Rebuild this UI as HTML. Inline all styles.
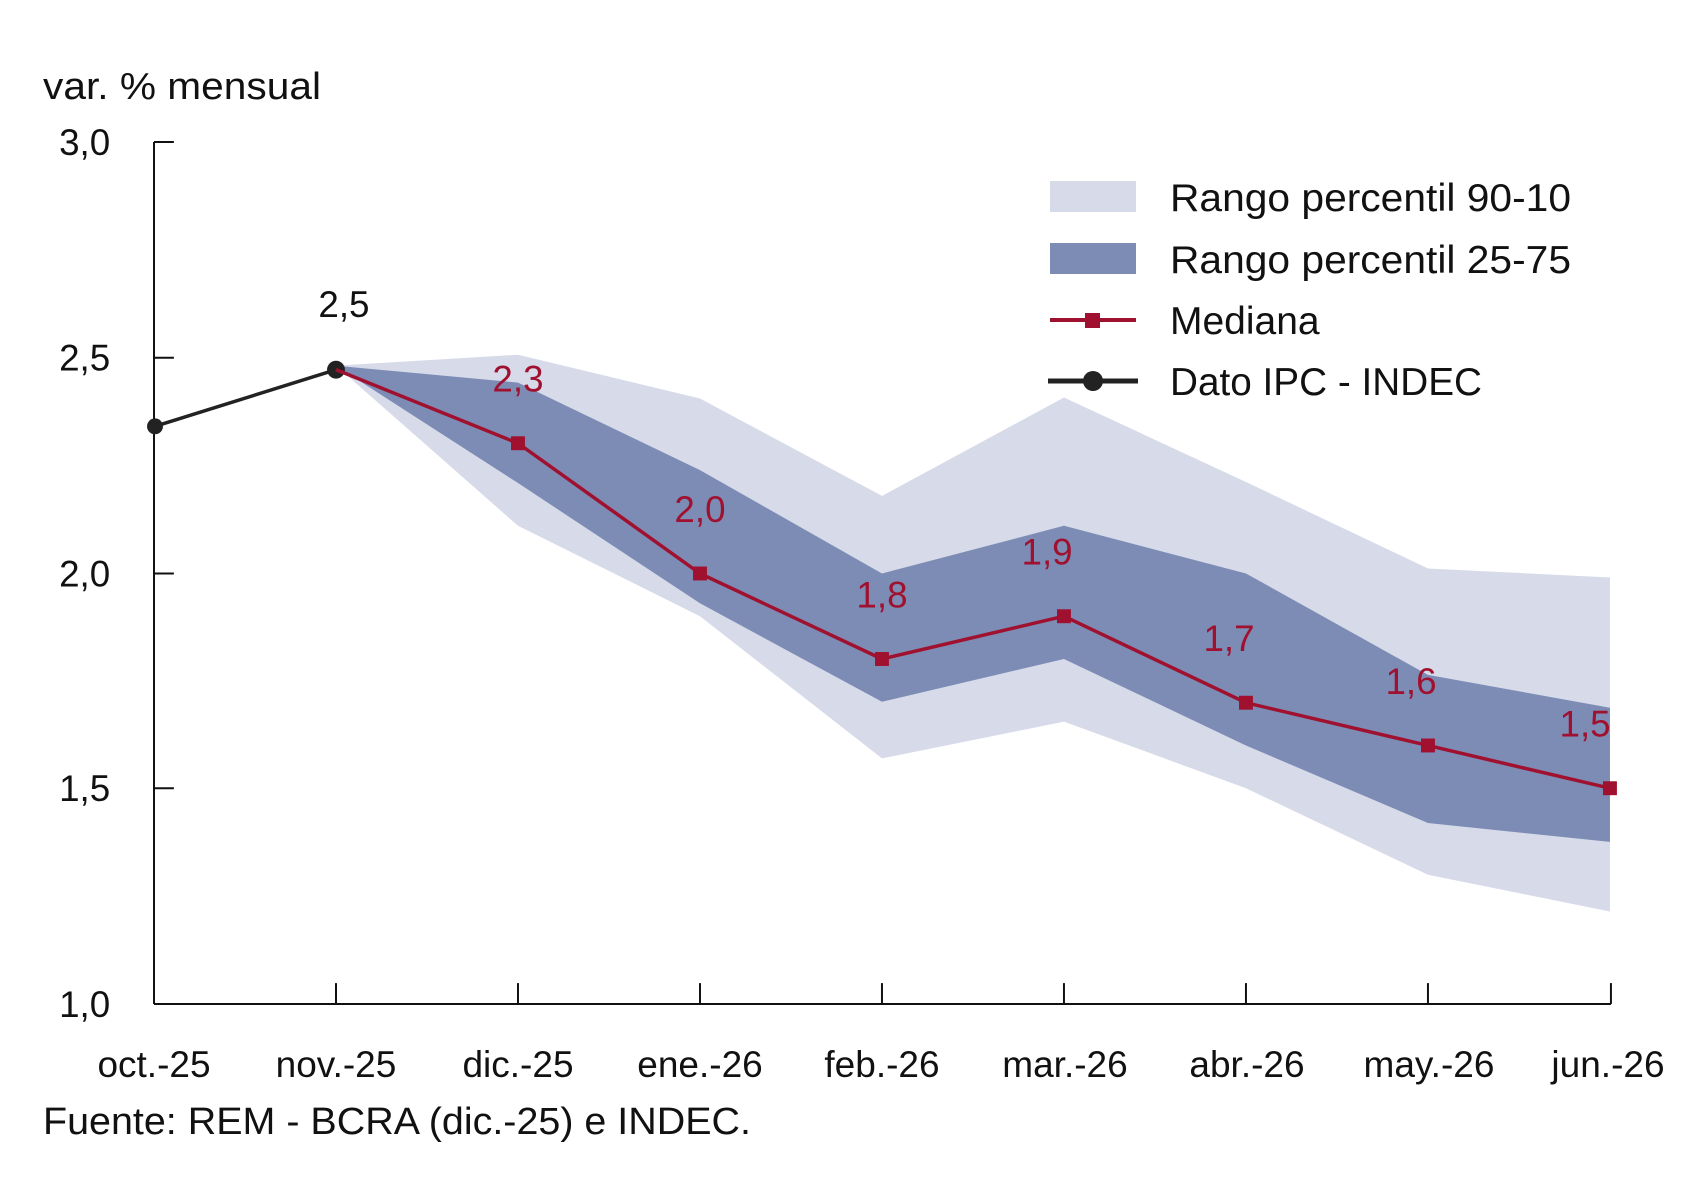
<!DOCTYPE html>
<html><head><meta charset="utf-8"><style>
html,body{margin:0;padding:0;background:#fff;}
svg text{font-family:"Liberation Sans",sans-serif;fill:#111;}
</style></head><body>
<svg width="1694" height="1181" viewBox="0 0 1694 1181" xmlns="http://www.w3.org/2000/svg">
<g transform="translate(154,142) scale(0.9945,0.9942) translate(-154,-142)">
<polygon fill="#d6dae9" points="337,367 520,356 703,400 886,498 1069,399 1252,484 1435,571 1618,580 1618,916 1435,879 1252,792 1069,725 886,762 703,619 520,528 337,367"/>
<polygon fill="#7d8cb5" points="337,367 520,384 703,472 886,576 1069,528 1252,576 1435,678 1618,711 1618,846 1435,827 1252,749 1069,662 886,705 703,606 520,485 337,367"/>
<line x1="154" y1="142" x2="154" y2="1009" stroke="#111" stroke-width="2"/>
<line x1="154" y1="1009" x2="1619" y2="1009" stroke="#111" stroke-width="2"/>
<g stroke="#111" stroke-width="2">
<line x1="154" y1="142" x2="174" y2="142"/><line x1="154" y1="359" x2="174" y2="359"/><line x1="154" y1="576" x2="174" y2="576"/><line x1="154" y1="792" x2="174" y2="792"/>
<line x1="337" y1="988" x2="337" y2="1009"/><line x1="520" y1="988" x2="520" y2="1009"/><line x1="703" y1="988" x2="703" y2="1009"/><line x1="886" y1="988" x2="886" y2="1009"/><line x1="1069" y1="988" x2="1069" y2="1009"/><line x1="1252" y1="988" x2="1252" y2="1009"/><line x1="1435" y1="988" x2="1435" y2="1009"/><line x1="1619" y1="988" x2="1619" y2="1009"/>
</g>
<polyline fill="none" stroke="#222" stroke-width="3.5" points="155,428 337,371"/>
<circle cx="155" cy="428" r="8" fill="#222"/><circle cx="337" cy="371" r="9" fill="#222"/>
<polyline fill="none" stroke="#a0112f" stroke-width="3.5" points="337,371 520,445 703,576 886,662 1069,619 1252,706 1435,749 1618,792"/>
<g fill="#a0112f">
<rect x="513" y="438" width="14" height="14"/><rect x="696" y="569" width="14" height="14"/><rect x="879" y="655" width="14" height="14"/><rect x="1062" y="612" width="14" height="14"/><rect x="1245" y="699" width="14" height="14"/><rect x="1428" y="742" width="14" height="14"/><rect x="1611" y="785" width="14" height="14"/>
</g>
<g font-size="37" text-anchor="middle">
<text x="345" y="318">2,5</text>
<text x="520" y="393" style="fill:#a0112f">2,3</text>
<text x="703" y="524" style="fill:#a0112f">2,0</text>
<text x="886" y="610" style="fill:#a0112f">1,8</text>
<text x="1052" y="567" style="fill:#a0112f">1,9</text>
<text x="1235" y="654" style="fill:#a0112f">1,7</text>
<text x="1418" y="697" style="fill:#a0112f">1,6</text>
<text x="1593" y="740" style="fill:#a0112f">1,5</text>
</g>
<g font-size="37" text-anchor="end">
<text x="110" y="155">3,0</text><text x="110" y="372">2,5</text><text x="110" y="589">2,0</text><text x="110" y="805">1,5</text><text x="110" y="1022">1,0</text>
</g>
</g>
<g font-size="37" text-anchor="middle">
<text x="154" y="1077">oct.-25</text><text x="336" y="1077">nov.-25</text><text x="518" y="1077">dic.-25</text><text x="700" y="1077">ene.-26</text><text x="882" y="1077">feb.-26</text><text x="1065" y="1077">mar.-26</text><text x="1247" y="1077">abr.-26</text><text x="1429" y="1077">may.-26</text><text x="1608" y="1077">jun.-26</text>
</g>
<text x="43" y="99" font-size="38" textLength="278" lengthAdjust="spacingAndGlyphs">var. % mensual</text>
<text x="43" y="1134" font-size="38" textLength="708" lengthAdjust="spacingAndGlyphs">Fuente: REM - BCRA (dic.-25) e INDEC.</text>
<rect x="1050" y="181" width="86" height="31" fill="#d6dae9"/>
<rect x="1050" y="243" width="86" height="31" fill="#7d8cb5"/>
<line x1="1050" y1="320" x2="1136" y2="320" stroke="#a0112f" stroke-width="4"/><rect x="1085" y="313" width="15" height="15" fill="#a0112f"/>
<line x1="1048" y1="381" x2="1138" y2="381" stroke="#222" stroke-width="5"/><circle cx="1093" cy="381" r="10" fill="#222"/>
<g font-size="39">
<text x="1170" y="211" textLength="401" lengthAdjust="spacingAndGlyphs">Rango percentil 90-10</text>
<text x="1170" y="273" textLength="401" lengthAdjust="spacingAndGlyphs">Rango percentil 25-75</text>
<text x="1170" y="334">Mediana</text>
<text x="1170" y="395" textLength="312" lengthAdjust="spacingAndGlyphs">Dato IPC - INDEC</text>
</g>
</svg>
</body></html>
